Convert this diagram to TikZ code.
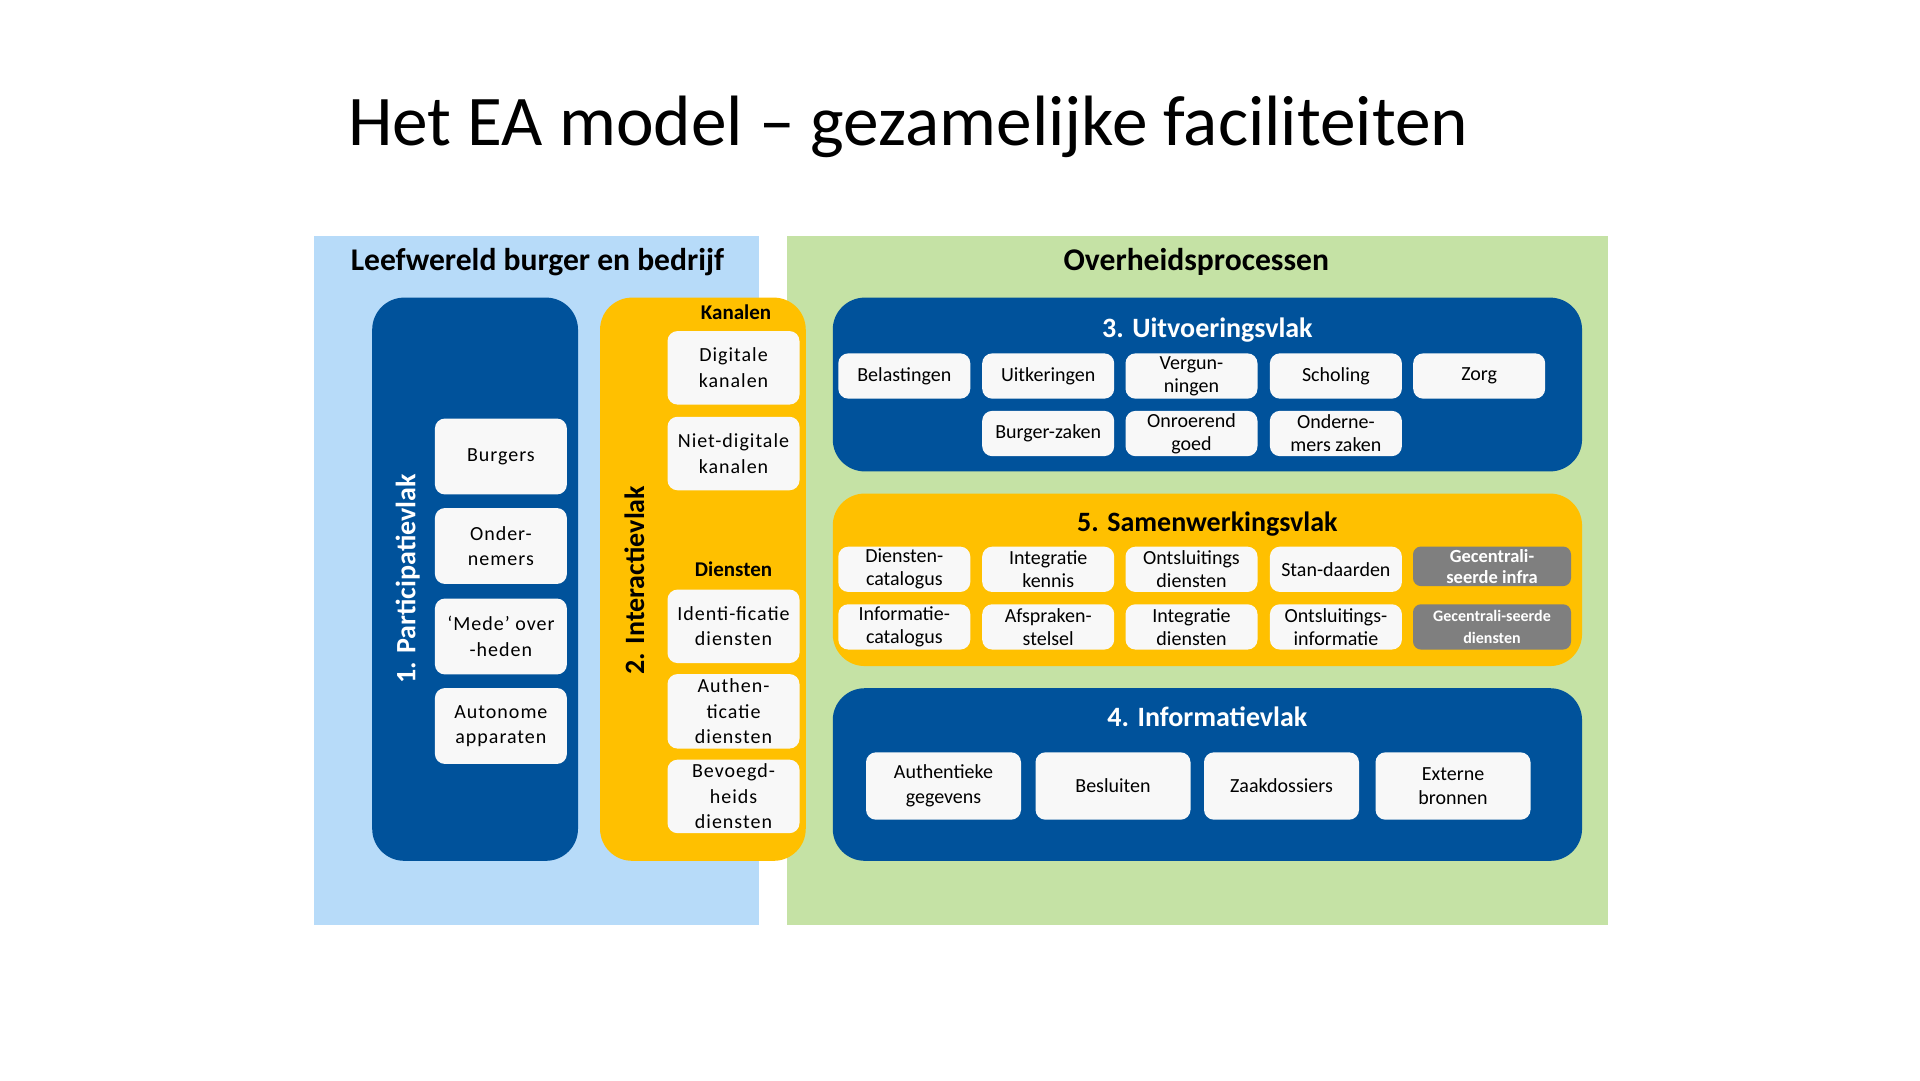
\documentclass[tikz,border=0pt]{standalone}
\usepackage{fontspec}
\setmainfont{Carlito}
\newfontfamily\spaced[LetterSpace=5]{Carlito}
\definecolor{lblue}{HTML}{B7DBF9}
\definecolor{lgreen}{HTML}{C5E2A5}
\definecolor{dblue}{HTML}{00529B}
\definecolor{gold}{HTML}{FFC000}
\definecolor{boxw}{HTML}{F8F8F8}
\definecolor{gbox}{HTML}{7F7F7F}
\begin{document}
\begin{tikzpicture}[x=1pt,y=-1pt,
  bgarea/.style={rectangle, inner sep=0, draw=none},
  panel/.style={rectangle, rounded corners=32pt, inner sep=0, draw=none},
  wbox/.style={rectangle, rounded corners=10pt, fill=boxw, inner sep=0, align=center, text=black, font=\fontsize{20}{23}\selectfont},
  sbox/.style={wbox, font=\spaced\fontsize{20}{25.5}\selectfont, minimum width=132pt},
  ubox/.style={wbox, minimum width=132pt, minimum height=45.3pt},
  ibox/.style={wbox, minimum width=155pt, minimum height=67.4pt, font=\fontsize{20}{24.5}\selectfont},
  gry/.style={rectangle, rounded corners=8pt, fill=gbox, inner sep=0, align=center, text=white},
  hdr/.style={font=\bfseries\fontsize{31.6}{36}\selectfont, text=black},
  ptitle/.style={font=\bfseries\fontsize{28}{32}\selectfont},
  sub/.style={font=\bfseries\fontsize{21}{24}\selectfont, text=black}
]
\useasboundingbox[fill=white] (0,0) rectangle (1920,1080);

% title
\node[anchor=base west, inner sep=0, font=\fontsize{71.3}{80}\selectfont] (title) at (348,145) {Het EA model – gezamelijke faciliteiten};

% backgrounds
\node[bgarea, fill=lblue, minimum width=445.7pt, minimum height=688.2pt] (leef) at (536.35,580.4) {};
\node[bgarea, fill=lgreen, minimum width=820.4pt, minimum height=688.2pt] (over) at (1197.6,580.4) {};
\node[hdr] (leefT) at (537.5,262) {Leefwereld burger en bedrijf};
\node[hdr] (overT) at (1196.3,262) {Overheidsprocessen};

% 1. Participatievlak
\node[panel, fill=dblue, minimum width=205.8pt, minimum height=563.2pt] (p1) at (475.1,579.2) {};
\node[ptitle, text=white, rotate=90] (p1T) at (407.8,579) {1. Participatievlak};
\node[sbox, minimum height=75.9pt] (burg) at (500.9,456.5) {Burgers};
\node[sbox, minimum height=75.9pt] (ondn) at (500.9,546) {Onder-\\nemers};
\node[sbox, minimum height=75.9pt] (mede) at (500.9,636.5) {‘Mede’ over\\-heden};
\node[sbox, minimum height=75.9pt] (auto) at (500.9,726) {Autonome\\apparaten};

% 2. Interactievlak
\node[panel, fill=gold, minimum width=205.7pt, minimum height=563.2pt] (p2) at (702.9,579.2) {};
\node[ptitle, text=black, rotate=90] (p2T) at (634.3,580) {2. Interactievlak};
\node[sub] (kan) at (736,312) {Kanalen};
\node[sub] (die) at (733.5,569.4) {Diensten};
\node[sbox, minimum height=73.5pt] (digi) at (733.5,367.8) {Digitale\\kanalen};
\node[sbox, minimum height=73.5pt] (ndig) at (733.5,453.5) {Niet-digitale\\kanalen};
\node[sbox, minimum height=73.5pt] (iden) at (733.5,626.3) {Identi-ficatie\\diensten};
\node[sbox, minimum height=74.5pt] (auth) at (733.5,711.3) {Authen-\\ticatie\\diensten};
\node[sbox, minimum height=73.5pt] (bevo) at (733.5,796.4) {Bevoegd-\\heids\\diensten};

% 3. Uitvoeringsvlak
\node[panel, fill=dblue, minimum width=749.3pt, minimum height=173.8pt] (p3) at (1207.4,384.5) {};
\node[ptitle, text=white] (p3T) at (1207.4,330) {3. Uitvoeringsvlak};
\node[ubox] (bel) at (904.3,376) {Belastingen};
\node[ubox] (uit) at (1048.2,376) {Uitkeringen};
\node[ubox] (ver) at (1191.5,376) {Vergun-\\ningen};
\node[ubox] (sch) at (1335.9,376) {Scholing};
\node[ubox] (zor) at (1479.2,376) {Zorg};
\node[ubox] (bur) at (1048.2,433.5) {Burger-zaken};
\node[ubox] (onr) at (1191.5,433.5) {Onroerend\\goed};
\node[ubox] (ond) at (1335.9,433.5) {Onderne-\\mers zaken};

% 5. Samenwerkingsvlak
\node[panel, fill=gold, minimum width=749.3pt, minimum height=172.5pt] (p5) at (1207.4,579.8) {};
\node[ptitle, text=black] (p5T) at (1207.4,523.6) {5. Samenwerkingsvlak};
\node[ubox] (dcat) at (904.3,569.3) {Diensten-\\catalogus};
\node[ubox] (ikin) at (1048.2,569.3) {Integratie\\kennis};
\node[ubox] (odie) at (1191.5,569.3) {Ontsluitings\\diensten};
\node[ubox] (stan) at (1335.9,569.3) {Stan-daarden};
\node[gry, minimum width=158pt, minimum height=39.6pt, font=\bfseries\fontsize{18.5}{21}\selectfont] (ginf) at (1492,566.3) {Gecentrali-\\seerde infra};
\node[ubox] (icat) at (904.3,626.9) {Informatie-\\catalogus};
\node[ubox] (afsp) at (1048.2,626.9) {Afspraken-\\stelsel};
\node[ubox] (idie) at (1191.5,626.9) {Integratie\\diensten};
\node[ubox] (oinf) at (1335.9,626.9) {Ontsluitings-\\informatie};
\node[gry, minimum width=158pt, minimum height=45.3pt, font=\bfseries\fontsize{16}{22}\selectfont] (gdie) at (1492,626.9) {Gecentrali-seerde\\diensten};

% 4. Informatievlak
\node[panel, fill=dblue, minimum width=749.3pt, minimum height=172.6pt] (p4) at (1207.4,774.5) {};
\node[ptitle, text=white] (p4T) at (1207.4,717) {4. Informatievlak};
\node[ibox] (aut) at (943.5,786) {Authentieke\\gegevens};
\node[ibox] (bes) at (1113,786) {Besluiten};
\node[ibox] (zaa) at (1281.5,786) {Zaakdossiers};
\node[ibox] (ext) at (1453,786) {Externe\\bronnen};
\end{tikzpicture}
\end{document}
